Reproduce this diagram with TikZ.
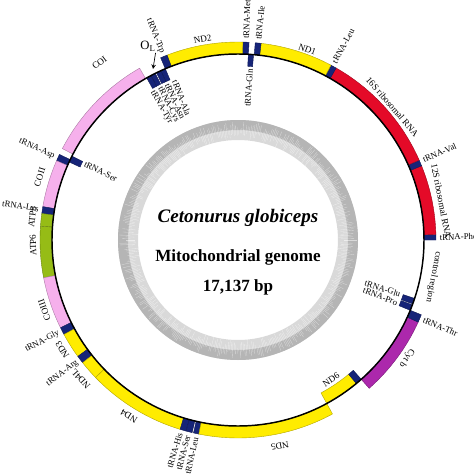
\documentclass[tikz,border=0pt]{standalone}
\usepackage{fontspec}
\setmainfont{Liberation Serif}
\usepackage{tikz}
\definecolor{geneY}{RGB}{255,236,0}
\definecolor{rrnaR}{RGB}{228,10,40}
\definecolor{coxP}{RGB}{246,176,236}
\definecolor{atpG}{RGB}{150,188,22}
\definecolor{cytV}{RGB}{172,40,172}
\definecolor{trnaB}{RGB}{22,36,120}

\begin{document}
\begin{tikzpicture}[x=0.75pt,y=0.75pt,
		tlab/.style={inner sep=0.4pt,font=\fontsize{6.6}{7}\selectfont},
		glab/.style={inner sep=0.4pt,font=\fontsize{6.9}{8}\selectfont}]
			\useasboundingbox (-238,-235) rectangle (236,240);
			% gray ring in the middle
			\fill[gray!30,even odd rule] (0,0) circle (120) (0,0) circle (100);
			\fill[gray!58,even odd rule] (0,0) circle (120) (0,0) circle (110);
			\pgfmathsetseed{11}
			\foreach \a in {0,0.8,...,359.2}{
				\pgfmathsetmacro\ra{100+9*rnd}
				\pgfmathsetmacro\rb{110+9*rnd}
				\draw[white,opacity=0.55,line width=0.25pt] (\a:\ra) -- (\a:110);
				\draw[gray!30,line width=0.25pt] (\a:110) -- (\a:\rb);
			}
			
			% genes outside the line
			\foreach \p/\q/\k in {0/1.6/trnaB,1.6/22/rrnaR,22/23.8/trnaB,23.8/60.3/rrnaR,60.3/62/trnaB,62/83.3/geneY,83.3/85/trnaB,86.8/88.6/trnaB,88.6/111/geneY,111/113/trnaB,119.8/152.5/coxP,154.4/156.4/trnaB,156.4/170.3/coxP,170.3/172.3/trnaB,172.3/176/atpG,176/191/atpG,191/206.3/coxP,206.3/208.5/trnaB,208.5/216/geneY,216/218.3/trnaB,218.3/224/geneY,224/253/geneY,253/254.8/trnaB,254.8/256.6/trnaB,257/258.6/trnaB,258.6/298.5/geneY,311.5/335.5/cytV,335.5/337.8/trnaB}{
				\filldraw[fill=\k,draw=\k!70!black,line width=0.3pt] (\p:186) arc (\p:\q:186) -- (\q:198) arc (\q:\p:198) -- cycle;
			}
			% genes inside the line
			\foreach \p/\q/\k in {85.2/86.8/trnaB,113/114.5/trnaB,114.5/116/trnaB,116.4/117.9/trnaB,117.9/119.4/trnaB,153.2/155.2/trnaB,298.5/309.5/geneY,309.5/311.5/trnaB,337.8/339.6/trnaB,339.9/341.7/trnaB}{
				\filldraw[fill=\k,draw=\k!70!black,line width=0.3pt] (\p:174) arc (\p:\q:174) -- (\q:186) arc (\q:\p:186) -- cycle;
			}
			\draw[line width=1.1pt] (0,0) circle (186);
			
			% tRNA labels, outer side
			\foreach \t/\a [count=\i] in {tRNA-Phe/0.8,tRNA-Val/23.4,tRNA-Leu/61.5,tRNA-Ile/84.2,tRNA-Met/87.7,tRNA-Thr/-23.2}{
				\node[tlab,anchor=west,rotate=\a] (or\i) at (\a:201) {\t};
			}
			\foreach \t/\a [count=\i] in {tRNA-Trp/112,tRNA-Asp/155.6,tRNA-Lys/171.4,tRNA-Gly/207.4,tRNA-Arg/217.2,tRNA-His/253.3,tRNA-Ser/255.6,tRNA-Leu/257.9}{
				\node[tlab,anchor=east,rotate=\a-180] (ol\i) at (\a:201) {\t};
			}
			% tRNA labels, inner side
			\foreach \t/\a [count=\i] in {tRNA-Gln/86,tRNA-Glu/341.5,tRNA-Pro/338.4}{
				\node[tlab,anchor=east,rotate=\a] (ir\i) at (\a:172) {\t};
			}
			\foreach \t/\a [count=\i] in {tRNA-Ala/111.6,tRNA-Asn/114.4,tRNA-Cys/117.2,tRNA-Tyr/120,tRNA-Ser/153.5}{
				\node[tlab,anchor=west,rotate=\a-180] (il\i) at (\a:172) {\t};
			}
			
			% gene labels
			\foreach \t/\a/\r [count=\i] in {ND2/100/204,ND1/70/203,16S ribosomal RNA/40.8/204,12S ribosomal RNA/10.9/207,control region/-10.7/199,Cyt b/325/206,ND5/281.5/210,ND4/238.2/207,ND4L/221.5/210,ND3/212/207,COIII/200/206,ATP6/181.4/205,ATP8/173.6/207,COII/162.4/208,COI/128/225}{
				\node[glab,rotate=\a-90] (g\i) at (\a:\r) {\t};
			}
			\node[glab,rotate=393.7] (nd6) at (303.7:168) {ND6};
			
			% origin of light strand
			\node[font=\fontsize{9.5}{10}\selectfont,inner sep=0.5pt] (olight) at (-90,194) {O$_{\mathrm{L}}$};
			\coordinate (olend) at (-85,171);
			\draw[-stealth,line width=0.5pt] (olight.south east) ++(-1,-1) coordinate (olstart) -- (olend);
			
			% centre text
			\node[font=\fontsize{14.3}{15}\selectfont\bfseries\itshape] (species) at (0,22) {Cetonurus globiceps};
			\node[font=\fontsize{12.8}{14}\selectfont\bfseries] (genome) at (0,-17) {Mitochondrial genome};
			\node[font=\fontsize{12.8}{14}\selectfont\bfseries] (length) at (0,-47) {17,137 bp};
		\end{tikzpicture}
\end{document}
